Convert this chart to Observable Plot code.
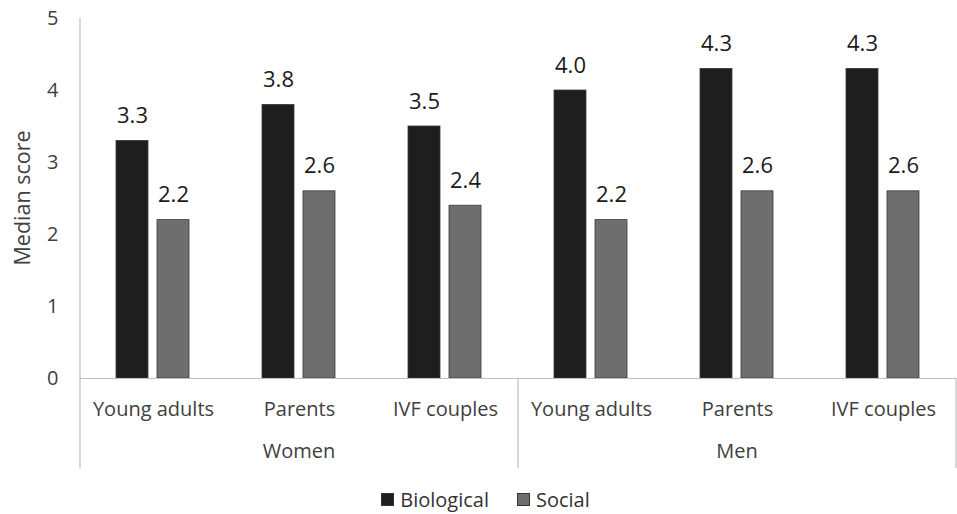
<!DOCTYPE html>
<html><head><meta charset="utf-8">
<script src="https://cdn.jsdelivr.net/npm/d3@7"></script>
<script src="https://cdn.jsdelivr.net/npm/@observablehq/plot@0.6"></script>
<style>
body{margin:0;background:#fff;font-family:"Open Sans",sans-serif;}
#chart svg{display:block;}
#legend{height:30px;padding-top:10px;display:flex;justify-content:center;align-items:center;gap:28px;font-size:20px;color:#333;padding-left:14px;}
#legend span.item{display:flex;align-items:center;gap:6px;}
#legend span.sw{display:inline-block;width:11px;height:11px;}
</style></head><body><div id="chart"></div><div id="legend"></div><script>
const groups = ["Women","Men"];
const categories = ["Young adults","Parents","IVF couples"];
const series = ["Biological","Social"];
const biological = [3.3,3.8,3.5,4.0,4.3,4.3];
const social = [2.2,2.6,2.4,2.2,2.6,2.6];
const colors = ["#1e1e1e","#6e6e6e"];
const yTicks = [0,1,2,3,4,5];
const yTitle = "Median score";

const keys = groups.flatMap(g => categories.map(c => g + "|" + c));
const rows = keys.flatMap((k,i)=>[
  {key:k, series:"Biological", value: biological[i]},
  {key:k, series:"Social", value: social[i]}
]);

const plot = Plot.plot({
  width:957, height:474, marginTop:18, marginBottom:96, marginLeft:79, marginRight:0,
  style:{fontFamily:"Open Sans", fontSize:"20px", color:"#404040", background:"#fff"},
  fx:{domain:keys, padding:0, label:null, axis:"bottom", tickFormat: k=>k.split("|")[1], tickSize:0, tickPadding:23},
  x:{domain:series, paddingInner:0.214, paddingOuter:0.869, axis:null},
  y:{domain:[0,5], ticks:yTicks, tickFormat:"d", tickSize:0, tickPadding:22, label:null},
  color:{domain:series, range:colors},
  marks:[
    Plot.barY(rows,{fx:"key", x:"series", y:"value", fill:"series", stroke:"#3a3a3a", strokeWidth:0.8}),
    Plot.text(rows,{fx:"key", x:"series", y:"value", text: d=>d.value.toFixed(1), lineAnchor:"bottom", dy:-18, fill:"#1a1a1a", fontSize:22}),
    Plot.ruleY([0],{stroke:"#bfbfbf", strokeWidth:1.2})
  ]
});
document.getElementById("chart").appendChild(plot);

// separators, y title and group labels via the plot's scales
const svg = d3.select(plot);
const fx = plot.scale("fx");
const y = plot.scale("y");
const y0 = y.apply(0), yTop = y.apply(5);
const bw = fx.bandwidth;
const edges = groups.map(g => fx.apply(g + "|" + categories[0]));
edges.push(fx.apply(keys[keys.length-1]) + bw);
edges.forEach((x,i) => {
  svg.append("line").attr("x1",x).attr("x2",x).attr("y1", i===0 ? yTop : y0).attr("y2", y0+90)
    .attr("stroke","#bfbfbf").attr("stroke-width",1.2);
});
groups.forEach((g,i) => {
  const cx = (edges[i] + edges[i+1]) / 2;
  svg.append("text").attr("x",cx).attr("y",y0+75).attr("text-anchor","middle").attr("dominant-baseline","middle")
    .attr("fill","#404040").style("font-size","20px").style("font-family","Open Sans").text(g);
});
svg.append("text").attr("transform",`translate(${edges[0]-56},${(y0+yTop)/2}) rotate(-90)`)
  .attr("text-anchor","middle").attr("dominant-baseline","middle")
  .attr("fill","#404040").style("font-size","21.5px").style("font-family","Open Sans").text(yTitle);

const leg = d3.select("#legend");
series.forEach((s,i)=>{
  const it = leg.append("span").attr("class","item");
  it.append("span").attr("class","sw").style("background",colors[i]).style("border","1px solid #333");
  it.append("span").text(s);
});
</script></body></html>
